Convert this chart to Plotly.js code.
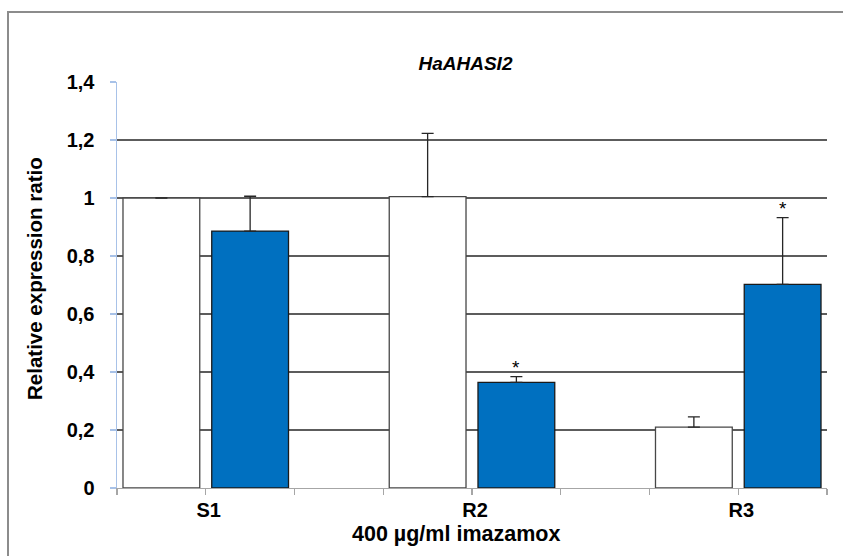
<!DOCTYPE html>
<html>
<head>
<meta charset="utf-8">
<script src="https://cdn.plot.ly/plotly-3.0.1.min.js"></script>
<style>
html,body{margin:0;padding:0;background:#fff;overflow:hidden;}
#wrap{position:relative;width:843px;height:556px;overflow:hidden;}
#chart{width:843px;height:556px;}
#frame{position:absolute;left:7px;top:11px;width:900px;height:600px;
  border-left:2px solid #8c8c8c;border-top:2px solid #8c8c8c;pointer-events:none;}
</style>
</head>
<body>
<div id="wrap">
<div id="chart"></div>
<div id="frame"></div>
</div>
<script>
// ---- data ----
const categories = ['S1', 'R2', 'R3'];
const controlValues = [1.0, 1.005, 0.21];     // white bars
const controlErrors = [0.0, 0.218, 0.035];
const treatedValues = [0.886, 0.364, 0.702];  // blue bars
const treatedErrors = [0.12, 0.02, 0.23];
const treatedSignif = ['', '*', '*'];
const chartTitle = 'HaAHASI2';
const yTitle = 'Relative expression ratio';
const xTitle = '400 µg/ml imazamox';

// group centres on a linear axis (3 slots per group)
const groupX = categories.map((c, i) => 3 * i + 1);
const tickVals = [];
const tickText = [];
for (let k = 0; k <= 3 * categories.length - 1; k++) {
  tickVals.push(k);
  const gi = groupX.indexOf(k);
  tickText.push(gi >= 0 ? categories[gi] : '');
}

const FONT = 'Liberation Sans, Arial, sans-serif';

const traces = [
  {
    type: 'bar', x: groupX, y: controlValues, name: 'control',
    marker: {color: '#ffffff', line: {color: '#474747', width: 1.3}},
    error_y: {type: 'data', symmetric: false, array: controlErrors,
              arrayminus: controlErrors.map(() => 0),
              color: '#262626', thickness: 1.3, width: 6}
  },
  {
    type: 'bar', x: groupX, y: treatedValues, name: 'treated',
    marker: {color: '#0070C0', line: {color: '#1a1a1a', width: 1.3}},
    error_y: {type: 'data', symmetric: false, array: treatedErrors,
              arrayminus: treatedErrors.map(() => 0),
              color: '#262626', thickness: 1.3, width: 6}
  }
];

const annotations = [];
treatedSignif.forEach((s, i) => {
  if (!s) return;
  annotations.push({
    x: groupX[i] + 0.5, y: treatedValues[i] + treatedErrors[i],
    xref: 'x', yref: 'y', text: s, showarrow: false,
    xanchor: 'center', yanchor: 'bottom', yshift: -3,
    font: {family: FONT, size: 19, color: '#000'}
  });
});
annotations.push({
  xref: 'paper', yref: 'paper', x: -0.1154, y: 0.515,
  text: '<b>' + yTitle + '</b>', textangle: -90, showarrow: false,
  xanchor: 'center', yanchor: 'middle',
  font: {family: FONT, size: 20.5, color: '#000'}
});
annotations.push({
  xref: 'paper', yref: 'paper', x: (456 - 117) / 710, y: -0.113,
  text: '<b>' + xTitle + '</b>', showarrow: false,
  xanchor: 'center', yanchor: 'middle',
  font: {family: FONT, size: 21.5, color: '#000'}
});

const layout = {
  width: 843, height: 556,
  margin: {l: 117, r: 16, t: 82, b: 67.5, pad: 0},
  paper_bgcolor: '#fff', plot_bgcolor: '#fff',
  separators: ',.',
  showlegend: false,
  barmode: 'group', bargap: 1 / 3, bargroupgap: 0.135,
  title: {
    text: '<b><i>' + chartTitle + '</i></b>',
    x: 465.5 / 843, xanchor: 'center', xref: 'container',
    y: 1 - 63 / 556, yanchor: 'middle', yref: 'container',
    font: {family: FONT, size: 19, color: '#000'}
  },
  xaxis: {
    type: 'linear', range: [0, 3 * categories.length - 1],
    tickmode: 'array', tickvals: tickVals, ticktext: tickText,
    ticks: 'outside', ticklen: 6, tickcolor: '#a6a6a6', tickwidth: 1.3,
    showline: true, linecolor: '#a6a6a6', linewidth: 1.3,
    showgrid: false, zeroline: false, fixedrange: true,
    ticklabelstandoff: -2, ticklabelshift: 3,
    tickfont: {family: FONT, size: 20, color: '#000', weight: 'bold'}
  },
  yaxis: {
    range: [0, 1.4], dtick: 0.2, tick0: 0,
    ticks: 'outside', ticklen: 6, tickcolor: '#a8c2e8', tickwidth: 1.3,
    showline: true, linecolor: '#a8c2e8', linewidth: 1.5,
    showgrid: true, gridcolor: '#5c5c5c', gridwidth: 1.3,
    zeroline: false, fixedrange: true,
    ticklabelstandoff: 11,
    tickfont: {family: FONT, size: 20, color: '#000', weight: 'bold'}
  },
  shapes: [
    {type: 'line', xref: 'paper', yref: 'y', x0: 0, x1: 1, y0: 1, y1: 1,
     line: {color: '#000', width: 1.3}, layer: 'below'}
  ],
  annotations: annotations
};

Plotly.newPlot('chart', traces, layout, {staticPlot: true, displayModeBar: false});
</script>
</body>
</html>
